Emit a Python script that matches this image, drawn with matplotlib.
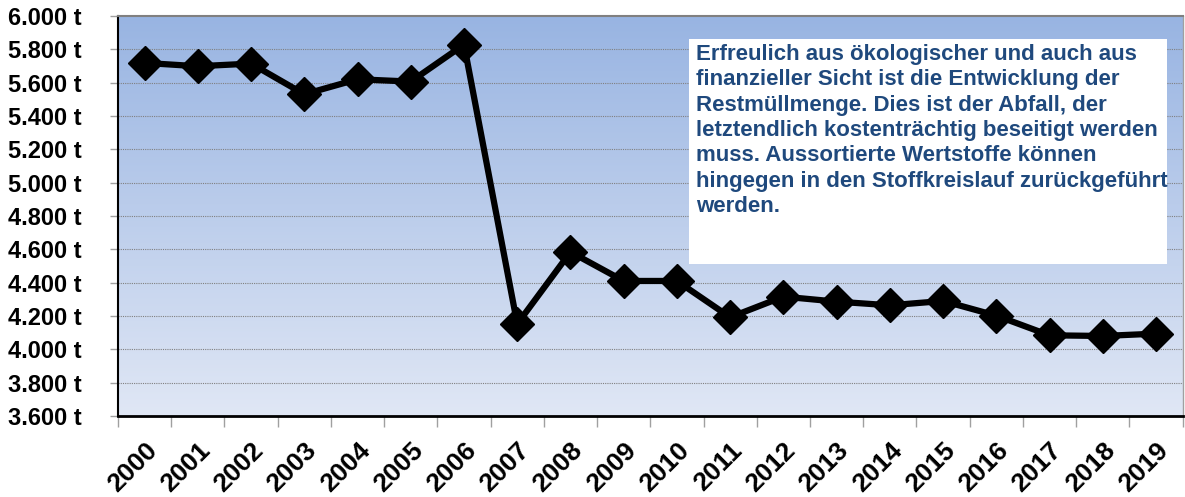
import numpy as np
from matplotlib import pyplot as plt
from matplotlib.colors import LinearSegmentedColormap
from matplotlib.patches import Rectangle
from matplotlib.transforms import ScaledTranslation

plt.rcParams['font.family'] = ['Liberation Sans', 'DejaVu Sans']

years = ["2000", "2001", "2002", "2003", "2004", "2005", "2006", "2007", "2008", "2009",
         "2010", "2011", "2012", "2013", "2014", "2015", "2016", "2017", "2018", "2019"]
# Restmuell in Tonnen
restmuell = [5718, 5698, 5714, 5530, 5620, 5606, 5828, 4152, 4584, 4410,
             4410, 4192, 4316, 4286, 4264, 4290, 4202, 4084, 4080, 4094]

y_ticks = [3600, 3800, 4000, 4200, 4400, 4600, 4800, 5000, 5200, 5400, 5600, 5800, 6000]
y_labels = [f"{v:,}".replace(",", ".") + " t" for v in y_ticks]

note = ("Erfreulich aus ökologischer und auch aus\n"
        "finanzieller Sicht ist die Entwicklung der\n"
        "Restmüllmenge. Dies ist der Abfall, der\n"
        "letztendlich kostenträchtig beseitigt werden\n"
        "muss. Aussortierte Wertstoffe können\n"
        "hingegen in den Stoffkreislauf zurückgeführt\n"
        "werden.")

fig = plt.figure(figsize=(11.85, 4.97), dpi=100)
ax = fig.add_axes([0.0996, 0.163, 0.8984, 0.805])

x = np.arange(len(years))
ax.set_xlim(-0.5, len(years) - 0.5)
ax.set_ylim(3600, 6000)

# background gradient
cmap = LinearSegmentedColormap.from_list("bg", ["#e0e7f5", "#98b4e2"])
grad = np.linspace(0, 1, 256).reshape(-1, 1)
ax.imshow(grad, cmap=cmap, aspect='auto', origin='lower',
          extent=[-0.5, len(years) - 0.5, 3600, 6000], zorder=0)

# grid
for v in y_ticks[1:-1]:
    ax.axhline(v, color='#808080', linestyle=(0, (1, 1)), linewidth=0.8, zorder=1)

ax.plot(x, restmuell, color='black', linewidth=4.5, marker='D', markersize=17,
        markeredgewidth=1, zorder=3)

# text box
ax.add_patch(Rectangle((0.536, 0.38), 0.449, 0.5625, transform=ax.transAxes,
                       facecolor='white', edgecolor='none', zorder=4))
ax.text(0.543, 0.93, note, transform=ax.transAxes, ha='left', va='top',
        fontsize=16, fontweight='bold', color='#1f497d', linespacing=1.27, zorder=5)

ax.set_yticks(y_ticks)
ax.set_yticklabels(y_labels, fontsize=17, fontweight='bold')
ax.set_xticks(x)
ax.set_xticklabels(years, fontsize=19, fontweight='bold', rotation=45,
                   ha='right', va='top', rotation_mode='anchor')
shift = ScaledTranslation(-6 / 100, 4 / 100, fig.dpi_scale_trans)
for lbl in ax.get_xticklabels():
    lbl.set_transform(lbl.get_transform() + shift)
ax.set_xticks(np.arange(-0.5, len(years)), minor=True)
ax.tick_params(axis='x', which='major', length=0, pad=16)
ax.tick_params(axis='x', which='minor', length=8, color='#a0a0a0', width=1)
ax.tick_params(axis='y', length=6, color='#a0a0a0', width=1, pad=20)

ax.spines['left'].set_color('black')
ax.spines['left'].set_linewidth(1.5)
ax.spines['bottom'].set_color('black')
ax.spines['bottom'].set_linewidth(2)
ax.spines['top'].set_color('#808080')
ax.spines['top'].set_linewidth(1.5)
ax.spines['right'].set_color('#a0a0a0')
ax.spines['right'].set_linewidth(1)

plt.savefig('out.png', dpi=100)
